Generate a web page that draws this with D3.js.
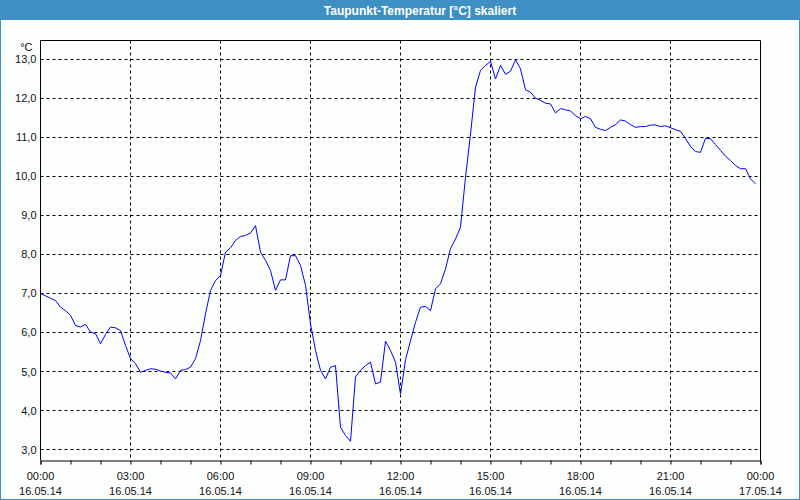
<!DOCTYPE html>
<html>
<head>
<meta charset="utf-8">
<script src="https://cdn.jsdelivr.net/npm/d3@7"></script>
<style>
  body { margin: 0; background: #fff; }
  svg { display: block; }
  text { font-family: "Liberation Sans", Arial, sans-serif; }
</style>
</head>
<body>
<svg id="chart" width="800" height="500"></svg>
<script>
var title = "Taupunkt-Temperatur [°C] skaliert";
var unit = "°C";

// Messzeitpunkte (10 min Raster), 16.05.14
var times = [
  "00:00","00:10","00:20","00:30","00:40","00:50","01:00","01:10","01:20","01:30","01:40","01:50",
  "02:00","02:10","02:20","02:30","02:40","02:50","03:00","03:10","03:20","03:30","03:40","03:50",
  "04:00","04:10","04:20","04:30","04:40","04:50","05:00","05:10","05:20","05:30","05:40","05:50",
  "06:00","06:10","06:20","06:30","06:40","06:50","07:00","07:10","07:20","07:30","07:40","07:50",
  "08:00","08:10","08:20","08:30","08:40","08:50","09:00","09:10","09:20","09:30","09:40","09:50",
  "10:00","10:10","10:20","10:30","10:40","10:50","11:00","11:10","11:20","11:30","11:40","11:50",
  "12:00","12:10","12:20","12:30","12:40","12:50","13:00","13:10","13:20","13:30","13:40","13:50",
  "14:00","14:10","14:20","14:30","14:40","14:50","15:00","15:10","15:20","15:30","15:40","15:50",
  "16:00","16:10","16:20","16:30","16:40","16:50","17:00","17:10","17:20","17:30","17:40","17:50",
  "18:00","18:10","18:20","18:30","18:40","18:50","19:00","19:10","19:20","19:30","19:40","19:50",
  "20:00","20:10","20:20","20:30","20:40","20:50","21:00","21:10","21:20","21:30","21:40","21:50",
  "22:00","22:10","22:20","22:30","22:40","22:50","23:00","23:10","23:20","23:30","23:40","23:50"
];

// Taupunkt in °C
var dewpoint = [
  7.00, 6.94, 6.88, 6.82, 6.65, 6.56, 6.44, 6.18, 6.14, 6.21, 6.01, 5.97,
  5.71, 5.95, 6.14, 6.12, 6.05, 5.67, 5.33, 5.20, 4.98, 5.03, 5.07, 5.06,
  5.01, 4.98, 4.96, 4.81, 5.03, 5.05, 5.11, 5.33, 5.79, 6.48, 7.08, 7.33,
  7.46, 8.06, 8.17, 8.36, 8.46, 8.49, 8.55, 8.74, 8.06, 7.85, 7.59, 7.08,
  7.35, 7.35, 7.97, 7.97, 7.72, 7.21, 6.22, 5.54, 5.03, 4.81, 5.11, 5.15,
  3.57, 3.36, 3.21, 4.86, 5.03, 5.15, 5.24, 4.68, 4.73, 5.78, 5.54, 5.24,
  4.42, 5.30, 5.79, 6.26, 6.65, 6.67, 6.56, 7.12, 7.25, 7.63, 8.15, 8.40,
  8.70, 9.98, 11.09, 12.29, 12.72, 12.85, 12.95, 12.50, 12.85, 12.62, 12.70, 12.99,
  12.76, 12.22, 12.16, 12.01, 11.95, 11.88, 11.86, 11.63, 11.74, 11.71, 11.68, 11.56,
  11.48, 11.54, 11.48, 11.26, 11.21, 11.18, 11.26, 11.33, 11.45, 11.42, 11.33, 11.26,
  11.28, 11.28, 11.32, 11.32, 11.28, 11.30, 11.25, 11.20, 11.16, 10.97, 10.77, 10.64,
  10.62, 10.98, 10.97, 10.82, 10.67, 10.52, 10.41, 10.28, 10.20, 10.20, 9.94, 9.81
];

var yTicks = [3, 4, 5, 6, 7, 8, 9, 10, 11, 12, 13];
var xTickTimes = ["00:00","03:00","06:00","09:00","12:00","15:00","18:00","21:00","00:00"];
var xTickDates = ["16.05.14","16.05.14","16.05.14","16.05.14","16.05.14","16.05.14","16.05.14","16.05.14","17.05.14"];

var margin = {top: 40, right: 40, bottom: 40, left: 40},
    W = 800, H = 500,
    width = W - margin.left - margin.right,
    height = H - margin.top - margin.bottom;

var parse = d3.timeParse("%d.%m.%y %H:%M");
var t0 = parse("16.05.14 00:00"), t1 = parse("17.05.14 00:00");

var data = times.map(function(t, i) {
  return {date: parse("16.05.14 " + t), value: dewpoint[i]};
});

var x = d3.scaleTime().domain([t0, t1]).range([0, width]);
var y = d3.scaleLinear().domain([2.718, 13.487]).range([height, 0]);

var svg = d3.select("#chart");

// Rahmen + Titelleiste
svg.append("rect").attr("width", W).attr("height", H).attr("fill", "#fcfefd");
svg.append("rect").attr("x", 0.5).attr("y", 0.5).attr("width", W - 1).attr("height", H - 1)
   .attr("fill", "none").attr("stroke", "#3d8fc4");
svg.append("rect").attr("width", W).attr("height", 20).attr("fill", "#3d8fc4");
svg.append("text").attr("x", 420).attr("y", 14.5).attr("text-anchor", "middle")
   .attr("fill", "#fff").style("font-size", "12px").style("font-weight", "bold")
   .text(title);

var g = svg.append("g").attr("transform", "translate(" + (margin.left + 0.5) + "," + (margin.top + 0.5) + ")");

// Gitter
g.selectAll(".hgrid").data(yTicks).enter().append("line")
  .attr("x1", 0).attr("x2", width)
  .attr("y1", function(d) { return Math.round(y(d)); })
  .attr("y2", function(d) { return Math.round(y(d)); })
  .attr("stroke", "#000").attr("stroke-dasharray", "3,3");

var majorTicks = d3.timeHour.every(3).range(t0, d3.timeMinute.offset(t1, 1));
g.selectAll(".vgrid").data(majorTicks.slice(1, -1)).enter().append("line")
  .attr("x1", function(d) { return Math.round(x(d)); })
  .attr("x2", function(d) { return Math.round(x(d)); })
  .attr("y1", 0).attr("y2", height)
  .attr("stroke", "#000").attr("stroke-dasharray", "3,3");

// Achsen
var xAxis = d3.axisBottom(x).ticks(d3.timeHour.every(1)).tickSize(4).tickFormat("");
g.append("g").attr("transform", "translate(0," + height + ")").call(xAxis)
  .call(function(a) { a.select(".domain").attr("stroke", "#000"); a.selectAll("line").attr("stroke", "#000"); });

g.append("line").attr("x1", 0).attr("x2", 0).attr("y1", 0).attr("y2", height).attr("stroke", "#000");
g.append("line").attr("x1", width).attr("x2", width).attr("y1", 0).attr("y2", height).attr("stroke", "#000");
g.append("line").attr("x1", 0).attr("x2", width).attr("y1", 0).attr("y2", 0).attr("stroke", "#000");

var fmt = d3.format(".1f");
g.selectAll(".ylab").data(yTicks).enter().append("text")
  .attr("x", -4).attr("y", function(d) { return y(d) + 4; })
  .attr("text-anchor", "end").attr("fill", "#111").style("font-size", "11px")
  .text(function(d) { return fmt(d).replace(".", ","); });

g.append("text").attr("x", -8).attr("y", 10).attr("text-anchor", "end")
  .attr("fill", "#111").style("font-size", "11px").text(unit);

var xl = g.selectAll(".xlab").data(majorTicks).enter().append("g")
  .attr("transform", function(d) { return "translate(" + x(d) + "," + height + ")"; });
xl.append("text").attr("y", 19).attr("text-anchor", "middle").attr("fill", "#111")
  .style("font-size", "11px").text(function(d, i) { return xTickTimes[i]; });
xl.append("text").attr("y", 34).attr("text-anchor", "middle").attr("fill", "#111")
  .style("font-size", "11px").text(function(d, i) { return xTickDates[i]; });

// Kurve
var line = d3.line()
  .x(function(d) { return x(d.date); })
  .y(function(d) { return y(d.value); });

g.append("path").datum(data)
  .attr("fill", "none").attr("stroke", "#0000ff").attr("stroke-width", 1)
  .attr("d", line);
</script>
</body>
</html>
